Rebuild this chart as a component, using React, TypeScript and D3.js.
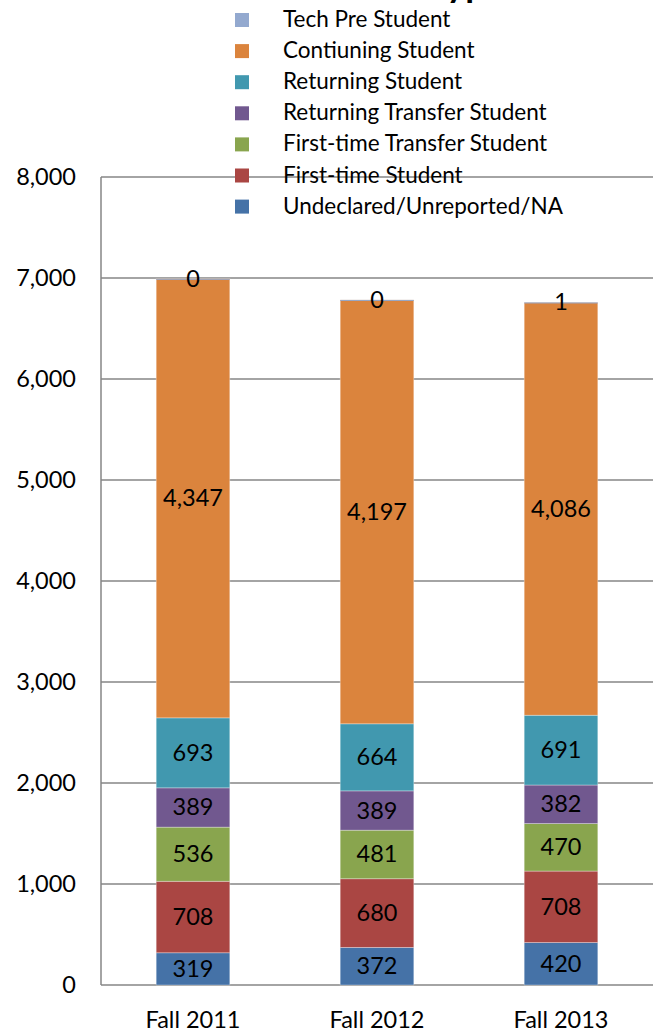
import { useRef, useEffect } from "react";
import * as d3 from "d3";

const categories = ["Fall 2011", "Fall 2012", "Fall 2013"];
const seriesNames = [
  "Undeclared/Unreported/NA",
  "First-time Student",
  "First-time Transfer Student",
  "Returning Transfer Student",
  "Returning Student",
  "Contiuning Student",
  "Tech Pre Student",
];
const undeclared = [319, 372, 420];
const firstTime = [708, 680, 708];
const firstTimeTransfer = [536, 481, 470];
const returningTransfer = [389, 389, 382];
const returning = [693, 664, 691];
const continuing = [4347, 4197, 4086];
const techPre = [0, 0, 1];
const yTicks = [0, 1000, 2000, 3000, 4000, 5000, 6000, 7000, 8000];

const colors = ["#4572A7", "#AA4643", "#89A54E", "#71588F", "#4198AF", "#DB843D", "#93A9CF"];

const W = 654;
const H = 1034;
const FONT = "Lato, 'Open Sans', sans-serif";

export default function App() {
  const svgRef = useRef<SVGSVGElement>(null);

  useEffect(() => {
    if (!svgRef.current) return;
    const svg = d3.select(svgRef.current);
    svg.selectAll("*").remove();

    const values = [undeclared, firstTime, firstTimeTransfer, returningTransfer, returning, continuing, techPre];
    const rows = categories.map((c, i) => {
      const r: any = { cat: c };
      seriesNames.forEach((s, k) => (r[s] = values[k][i]));
      return r;
    });
    const stacked = d3.stack<any>().keys(seriesNames)(rows);

    const plotLeft = 101;
    const plotRight = 653;
    const y = d3.scaleLinear().domain([0, 8000]).range([985, 177]);
    const x = d3
      .scaleBand()
      .domain(categories)
      .range([plotLeft, plotRight])
      .paddingInner(0.6)
      .paddingOuter(0.3);

    // title, mostly cut off by the top edge
    svg
      .append("text")
      .attr("x", 505)
      .attr("y", -3)
      .attr("text-anchor", "end")
      .attr("font-family", FONT)
      .attr("font-weight", "bold")
      .attr("font-size", 36)
      .attr("fill", "#000")
      .text("Student Type");

    // gridlines
    svg
      .append("g")
      .selectAll("line")
      .data(yTicks)
      .join("line")
      .attr("x1", plotLeft)
      .attr("x2", plotRight)
      .attr("y1", (d) => y(d))
      .attr("y2", (d) => y(d))
      .attr("stroke", "#868686")
      .attr("stroke-width", 1.5);

    svg
      .append("line")
      .attr("x1", plotLeft)
      .attr("x2", plotLeft)
      .attr("y1", y(8000))
      .attr("y2", y(0))
      .attr("stroke", "#868686")
      .attr("stroke-width", 1.5);

    // y labels
    svg
      .append("g")
      .selectAll("text")
      .data(yTicks)
      .join("text")
      .attr("x", 76)
      .attr("y", (d) => y(d) + 8)
      .attr("text-anchor", "end")
      .attr("font-family", FONT)
      .attr("font-size", 23.5)
      .attr("fill", "#000")
      .text((d) => d3.format(",")(d));

    // bars
    stacked.forEach((layer, k) => {
      svg
        .append("g")
        .selectAll("rect")
        .data(layer)
        .join("rect")
        .attr("x", (d: any) => x(d.data.cat)!)
        .attr("width", x.bandwidth())
        .attr("y", (d) => y(d[1]))
        .attr("height", (d) => Math.max(y(d[0]) - y(d[1]), k === 6 ? 1 : 0))
        .attr("fill", colors[k])
        .attr("stroke", k === 6 ? "none" : "rgba(255,255,255,0.4)")
        .attr("stroke-width", 0.8);
    });

    // value labels
    stacked.forEach((layer) => {
      svg
        .append("g")
        .selectAll("text")
        .data(layer)
        .join("text")
        .attr("x", (d: any) => x(d.data.cat)! + x.bandwidth() / 2)
        .attr("y", (d: any) => (y(d[0]) + y(d[1])) / 2 + 8)
        .attr("text-anchor", "middle")
        .attr("font-family", FONT)
        .attr("font-size", 23.5)
        .attr("fill", "#000")
        .text((d: any) => d3.format(",")(d[1] - d[0]));
    });

    // x labels
    svg
      .append("g")
      .selectAll("text")
      .data(categories)
      .join("text")
      .attr("x", (d) => x(d)! + x.bandwidth() / 2)
      .attr("y", 1028)
      .attr("text-anchor", "middle")
      .attr("font-family", FONT)
      .attr("font-size", 23.5)
      .attr("fill", "#000")
      .text((d) => d);

    // legend, series listed top to bottom in reverse order
    const legendOrder = seriesNames.map((s, k) => ({ s, k })).reverse();
    const lg = svg
      .append("g")
      .selectAll("g")
      .data(legendOrder)
      .join("g")
      .attr("transform", (_d, i) => `translate(235, ${20 + i * 31.1})`);
    lg.append("rect")
      .attr("x", 0)
      .attr("y", -7)
      .attr("width", 14)
      .attr("height", 14)
      .attr("fill", (d) => colors[d.k]);
    lg.append("text")
      .attr("x", 48)
      .attr("y", 7)
      .attr("font-family", FONT)
      .attr("font-size", 22.5)
      .attr("fill", "#000")
      .text((d) => d.s);
  }, []);

  return (
    <svg
      ref={svgRef}
      width={W}
      height={H}
      style={{ position: "absolute", top: 0, left: 0, background: "#fff" }}
    />
  );
}
